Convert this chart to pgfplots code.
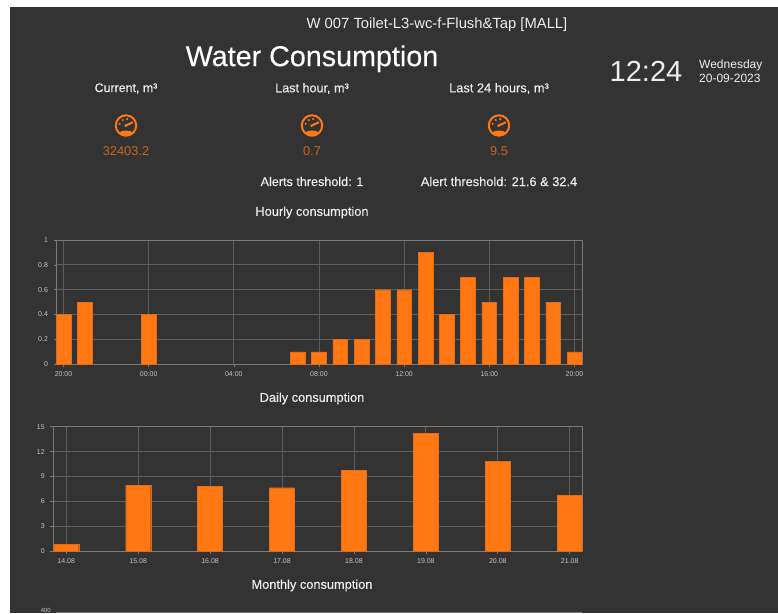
\documentclass[border=0pt]{standalone}
\usepackage{pgfplots}
\pgfplotsset{compat=1.18}
\usepackage{fontspec}
\setmainfont{Liberation Sans}
\newfontfamily\med[FakeBold=0.25]{Liberation Sans}
\definecolor{bg}{HTML}{333333}
\definecolor{bar}{HTML}{FF7814}
\definecolor{val}{HTML}{C8641E}
\definecolor{gridc}{HTML}{5E5E5E}
\definecolor{axc}{HTML}{7A7A7A}
\definecolor{tickc}{HTML}{C4C4C4}
\definecolor{txt}{HTML}{EDEDED}
\pgfplotsset{
  panel/.style={
    scale only axis, anchor=south west,
    axis line style={axc,line width=0.7pt},
    grid=both, grid style={gridc,line width=0.8pt},
    tick style={axc,line width=0.6pt},
    tick align=outside, major tick length=3pt,
    xtick pos=bottom, ytick pos=left,
    tick label style={tickc,font=\fontsize{7}{7}\selectfont},
    /pgf/number format/assume math mode=true,
    ymin=0, clip=true, xticklabel style={yshift=-1pt},
    yticklabel style={xshift=-2pt}
  },
  barplot/.style={fill=bar,draw=bar!90!black,line width=0.3pt}
}
\newcommand{\icon}[2]{%
  \begin{scope}[shift={(#1,#2)}]
    \draw[bar,line width=2pt] (0,0) circle (10.2);
    \begin{scope}
      \clip (0,0) circle (10.2);
      \fill[bar] (-11,-11) rectangle (11,-7.4);
      \fill[bar] (-8,-7.5) .. controls (-3.5,-4.2) and (3.5,-4.2) .. (8,-7.5) -- cycle;
    \end{scope}
    \fill[bar] (-1.8,0.4) -- (6.6,4.2) -- (7.2,2.4) -- (-0.8,-1.6) .. controls (-1.8,-1.4) .. (-1.8,0.4) -- cycle;
    \fill[bar] (-6.4,1.6) circle (1.2);
    \fill[bar] (-3.2,5.4) circle (1.2);
    \fill[bar] (1.2,6.4) circle (1.2);
  \end{scope}}
\newcommand{\tx}[5]{\node[text=#4,inner sep=0pt,font=\fontsize{#3}{#3}\selectfont] at (#1,#2) {#5};}
\newcommand{\mx}[5]{\node[text=#4,inner sep=0pt,font=\fontsize{#3}{#3}\selectfont\med] at (#1,#2) {#5};}
\begin{document}
\begin{tikzpicture}[x=1pt,y=1pt]
\path[use as bounding box] (0,0) rectangle (778,613);
\fill[white] (0,0) rectangle (778,613);
\fill[bg] (10,0) rectangle (778,606);

\tx{437}{588}{14.8}{txt}{W 007 Toilet-L3-wc-f-Flush\&Tap [MALL]}
\mx{312}{554.3}{28.7}{white}{Water Consumption}
\tx{646}{542}{29}{txt}{12:24}
\node[text=txt,inner sep=0pt,anchor=base west,font=\fontsize{12}{12}\selectfont] at (699,544) {Wednesday};
\node[text=txt,inner sep=0pt,anchor=base west,font=\fontsize{12}{12}\selectfont] at (699,530) {20-09-2023};

\mx{126}{524.5}{12.4}{txt}{Current, m³}
\mx{312}{524.5}{12.6}{txt}{Last hour, m³}
\mx{499}{524.5}{12.8}{txt}{Last 24 hours, m³}
\icon{126}{487.5}\icon{312}{487.5}\icon{499}{487.5}
\tx{126}{461.5}{12.8}{val}{32403.2}
\tx{312}{461.5}{12.8}{val}{0.7}
\tx{499}{461.5}{12.8}{val}{9.5}
\mx{312}{431.5}{12.6}{txt}{Alerts threshold: 1}
\mx{499}{431.5}{12.8}{txt}{Alert threshold: 21.6 \& 32.4}
\mx{312}{400.5}{12.8}{txt}{Hourly consumption}
\mx{312}{214.5}{12.8}{txt}{Daily consumption}
\mx{312}{27.5}{12.8}{txt}{Monthly consumption}

\begin{axis}[panel, at={(56.5pt,248.7pt)}, width=525.8pt, height=124.3pt,
  xmin=-0.33, xmax=24.37, ymax=1,
  xtick={0,4,8,12,16,20,24},
  xticklabels={20:00,00:00,04:00,08:00,12:00,16:00,20:00},
  ytick={0,0.2,0.4,0.6,0.8,1},
  yticklabels={0,0.2,0.4,0.6,0.8,1}]
\addplot[ybar,bar width=14.7pt,barplot] coordinates {
 (0,0.4)(1,0.5)(4,0.4)(11,0.1)(12,0.1)(13,0.2)(14,0.2)(15,0.6)(16,0.6)
 (17,0.9)(18,0.4)(19,0.7)(20,0.5)(21,0.7)(22,0.7)(23,0.5)(24,0.1)};
\end{axis}

\begin{axis}[panel, at={(53.3pt,62pt)}, width=529pt, height=124.3pt,
  xmin=-0.18, xmax=7.175, ymax=15,
  xtick={0,1,2,3,4,5,6,7},
  xticklabels={14.08,15.08,16.08,17.08,18.08,19.08,20.08,21.08},
  ytick={0,3,6,9,12,15}]
\addplot[ybar,bar width=25pt,barplot] coordinates {
 (0,0.8)(1,7.92)(2,7.8)(3,7.64)(4,9.73)(5,14.2)(6,10.8)(7,6.7)};
\end{axis}

\draw[axc,line width=0.6pt] (56,0.8) -- (582,0.8);
\node[text=tickc,inner sep=0pt,anchor=east,font=\fontsize{6}{6}\selectfont] at (51,2.6) {400};
\end{tikzpicture}
\end{document}
